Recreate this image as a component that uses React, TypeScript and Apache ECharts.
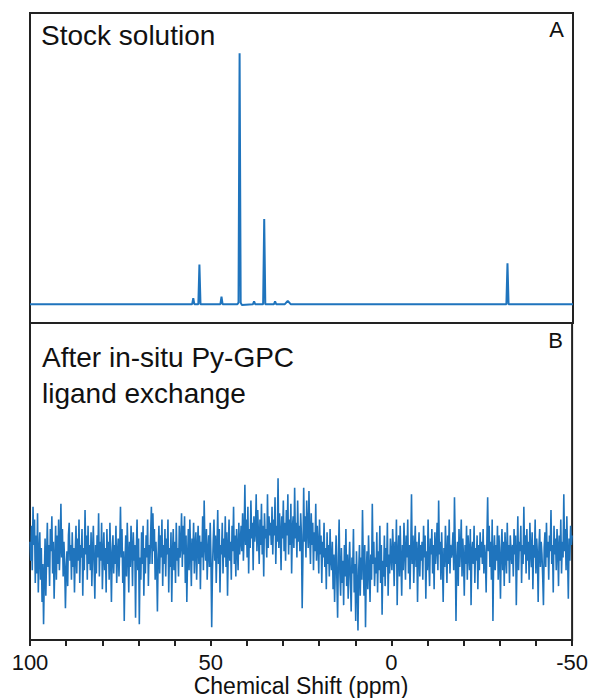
import React, { useEffect, useRef } from "react";
import * as echarts from "echarts";

// Panel A: stock solution spectrum (ppm, relative intensity)
const stockPpm = [100, 55.2, 54.9, 54.6, 53.5, 53.2, 52.9, 47.4, 47.1, 46.8, 42.7, 42.4, 42.1, 41.8, 41.5, 38.4, 38.1, 37.8, 35.6, 35.3, 35.0, 32.6, 32.3, 32.0, 29.6, 28.8, 28.0, -31.6, -31.9, -32.2, -50];
const stockIntensity = [0, 0, 2.4, 0, 0, 15.8, 0, 0, 3.0, 0, 0, 0.6, 100, 0.6, -0.3, 0, 1.1, 0, 0, 33.9, 0, 0, 1.1, 0, 0, 1.3, 0, 0, 16.3, 0, 0];

// Panel B: after in-situ Py-GPC ligand exchange (sampled from 100 to -50 ppm)
const exchangeIntensity = [
  31, 25, 36, 22, 42, 30, 38, 18, 33, 21, 40, 15, 27, 34, 19, 29, 12, 24, 5, 20,
  32, 14, 26, 37, 23, 30, 17, 35, 28, 39, 21, 31, 13, 25, 36, 19, 33, 24, 38, 22,
  29, 43, 26, 35, 20, 31, 24, 10, 22, 28, 17, 33, 37, 25, 30, 19, 34, 23, 29, 15,
  27, 36, 21, 32, 25, 38, 18, 30, 26, 35, 14, 29, 22, 41, 27, 33, 19, 36, 24, 30,
  22, 34, 17, 28, 36, 24, 13, 30, 21, 33, 26, 40, 20, 31, 25, 37, 16, 27, 34, 22,
  29, 15, 35, 24, 31, 19, 37, 26, 12, 28, 33, 21, 30, 24, 36, 18, 27, 32, 20, 29,
  42, 26, 35, 18, 28, 6, 24, 33, 20, 37, 27, 15, 31, 23, 36, 29, 17, 34, 25, 30,
  7, 28, 38, 22, 32, 5, 26, 19, 34, 24, 36, 14, 29, 21, 33, 26, 38, 17, 30, 24,
  33, 42, 24, 40, 28, 35, 19, 31, 24, 9, 27, 36, 21, 33, 26, 38, 17, 30, 24, 35,
  20, 32, 27, 38, 15, 29, 23, 34, 12, 27, 35, 22, 31, 18, 37, 25, 29, 20, 36, 26,
  30, 40, 23, 36, 27, 39, 18, 33, 12, 26, 35, 22, 38, 28, 17, 32, 25, 37, 21, 30,
  34, 19, 29, 36, 24, 33, 16, 31, 26, 39, 22, 44, 30, 25, 35, 19, 28, 33, 23, 37,
  26, 4, 22, 31, 38, 25, 33, 18, 29, 41, 24, 35, 15, 30, 27, 37, 21, 32, 26, 39,
  23, 34, 14, 29, 38, 25, 31, 19, 36, 28, 42, 24, 33, 20, 35, 29, 22, 37, 27, 31,
  36, 28, 40, 25, 33, 49, 30, 38, 26, 42, 21, 35, 29, 44, 32, 37, 22, 39, 31, 34,
  46, 28, 41, 33, 24, 38, 30, 43, 27, 36, 20, 40, 32, 35, 26, 46, 29, 39, 33, 37,
  30, 42, 27, 38, 33, 45, 24, 36, 31, 51, 29, 40, 34, 22, 39, 32, 44, 28, 37, 25,
  41, 33, 46, 27, 38, 30, 43, 21, 35, 39, 29, 48, 32, 37, 26, 44, 31, 36, 28, 40,
  33, 10, 27, 48, 31, 39, 26, 44, 35, 29, 47, 33, 24, 40, 30, 37, 22, 34, 28, 43,
  25, 36, 30, 21, 38, 27, 33, 18, 31, 26, 37, 23, 29, 16, 34, 24, 30, 20, 35, 25,
  22, 31, 16, 27, 12, 24, 33, 19, 7, 26, 38, 21, 14, 29, 18, 25, 11, 30, 20, 35,
  17, 27, 13, 23, 31, 19, 9, 26, 21, 35, 15, 24, 6, 28, 18, 3, 22, 30, 14, 26,
  19, 41, 25, 14, 30, 4, 21, 28, 16, 33, 22, 12, 27, 19, 43, 24, 31, 17, 26, 21,
  34, 15, 28, 22, 36, 18, 30, 8, 25, 20, 33, 17, 29, 23, 37, 14, 27, 21, 32, 26,
  22, 35, 28, 17, 31, 24, 38, 11, 27, 33, 20, 36, 25, 14, 30, 22, 37, 28, 19, 33,
  26, 38, 21, 30, 16, 28, 46, 24, 33, 18, 29, 36, 23, 31, 12, 27, 34, 20, 30, 25,
  31, 19, 36, 26, 33, 13, 28, 22, 38, 25, 17, 32, 27, 35, 21, 30, 16, 34, 24, 29,
  37, 22, 44, 27, 31, 19, 34, 25, 12, 29, 23, 36, 27, 18, 33, 24, 38, 21, 30, 26,
  28, 34, 22, 45, 30, 6, 25, 31, 17, 35, 23, 29, 38, 20, 32, 26, 14, 30, 24, 36,
  19, 33, 27, 22, 35, 11, 28, 31, 24, 36, 18, 29, 25, 33, 16, 30, 22, 34, 26, 31,
  24, 35, 21, 30, 26, 15, 32, 45, 28, 36, 23, 31, 19, 38, 6, 27, 33, 22, 30, 25,
  36, 19, 33, 26, 13, 29, 35, 22, 31, 17, 34, 27, 21, 37, 25, 30, 18, 33, 28, 24,
  30, 20, 35, 27, 33, 11, 26, 39, 22, 31, 28, 36, 18, 30, 24, 42, 27, 33, 21, 35,
  25, 31, 19, 37, 28, 23, 34, 16, 30, 26, 38, 21, 32, 27, 12, 29, 35, 23, 31, 27,
  20, 11, 29, 34, 23, 37, 26, 31, 19, 33, 28, 41, 24, 30, 15, 36, 27, 32, 22, 35,
  29, 17, 33, 25, 38, 21, 31, 26, 46, 28, 35, 22, 39, 27, 13, 32, 25, 36, 30, 33,
];
const ppmStart = 100;
const ppmEnd = -50;
const tickLabels = [100, 50, 0, -50];

const FONT = "'Liberation Sans', Arial, sans-serif";
const LINE = "#1f74bd";

export default function App() {
  const ref = useRef<HTMLDivElement>(null);
  useEffect(() => {
    if (!ref.current) return;
    const chart = echarts.init(ref.current, null, { renderer: "svg" });
    const stockData = stockPpm.map((p, i) => [p, stockIntensity[i]]);
    const step = (ppmStart - ppmEnd) / (exchangeIntensity.length - 1);
    const exchData = exchangeIntensity.map((v, i) => [ppmStart - i * step, v]);
    chart.setOption({
      animation: false,
      backgroundColor: "#fff",
      grid: [
        { left: 30, right: 18, top: 13, height: 310, show: true, borderColor: "#222", borderWidth: 2, backgroundColor: "transparent" },
        { left: 30, right: 18, top: 323, height: 317, show: true, borderColor: "#222", borderWidth: 2, backgroundColor: "transparent" },
      ],
      xAxis: [
        { type: "value", gridIndex: 0, min: ppmEnd, max: ppmStart, inverse: true, show: false },
        {
          type: "value", gridIndex: 1, min: ppmEnd, max: ppmStart, inverse: true, interval: 10,
          axisLine: { show: true, lineStyle: { color: "#222", width: 2 } },
          axisTick: { show: true, length: 6, lineStyle: { color: "#222", width: 2 } },
          splitLine: { show: false },
          axisLabel: {
            color: "#111", fontSize: 22, fontFamily: FONT, margin: 11,
            formatter: (v: number) => (tickLabels.includes(v) ? String(v) : ""),
          },
          name: "Chemical Shift (ppm)", nameLocation: "middle", nameGap: 34,
          nameTextStyle: { color: "#111", fontSize: 23, fontFamily: FONT },
        },
      ],
      yAxis: [
        { type: "value", gridIndex: 0, min: -7.5, max: 116, show: false },
        { type: "value", gridIndex: 1, min: 0, max: 100, show: false },
      ],
      series: [
        { type: "line", xAxisIndex: 0, yAxisIndex: 0, data: stockData, showSymbol: false, lineStyle: { color: LINE, width: 2 } },
        { type: "line", xAxisIndex: 1, yAxisIndex: 1, data: exchData, showSymbol: false, lineStyle: { color: LINE, width: 1.6 } },
      ],
      graphic: [
        { type: "text", left: 41, top: 21, style: { text: "Stock solution", font: `28px ${FONT}`, fill: "#111" } },
        { type: "text", right: 27, top: 18, style: { text: "A", font: `22px ${FONT}`, fill: "#111" } },
        { type: "text", left: 42, top: 339, style: { text: "After in-situ Py-GPC\nligand exchange", font: `28px ${FONT}`, lineHeight: 36, fill: "#111" } },
        { type: "text", right: 28, top: 329, style: { text: "B", font: `22px ${FONT}`, fill: "#111" } },
      ],
    });
    return () => chart.dispose();
  }, []);
  return <div ref={ref} style={{ position: "fixed", left: 0, top: 0, width: 591, height: 698 }} />;
}
